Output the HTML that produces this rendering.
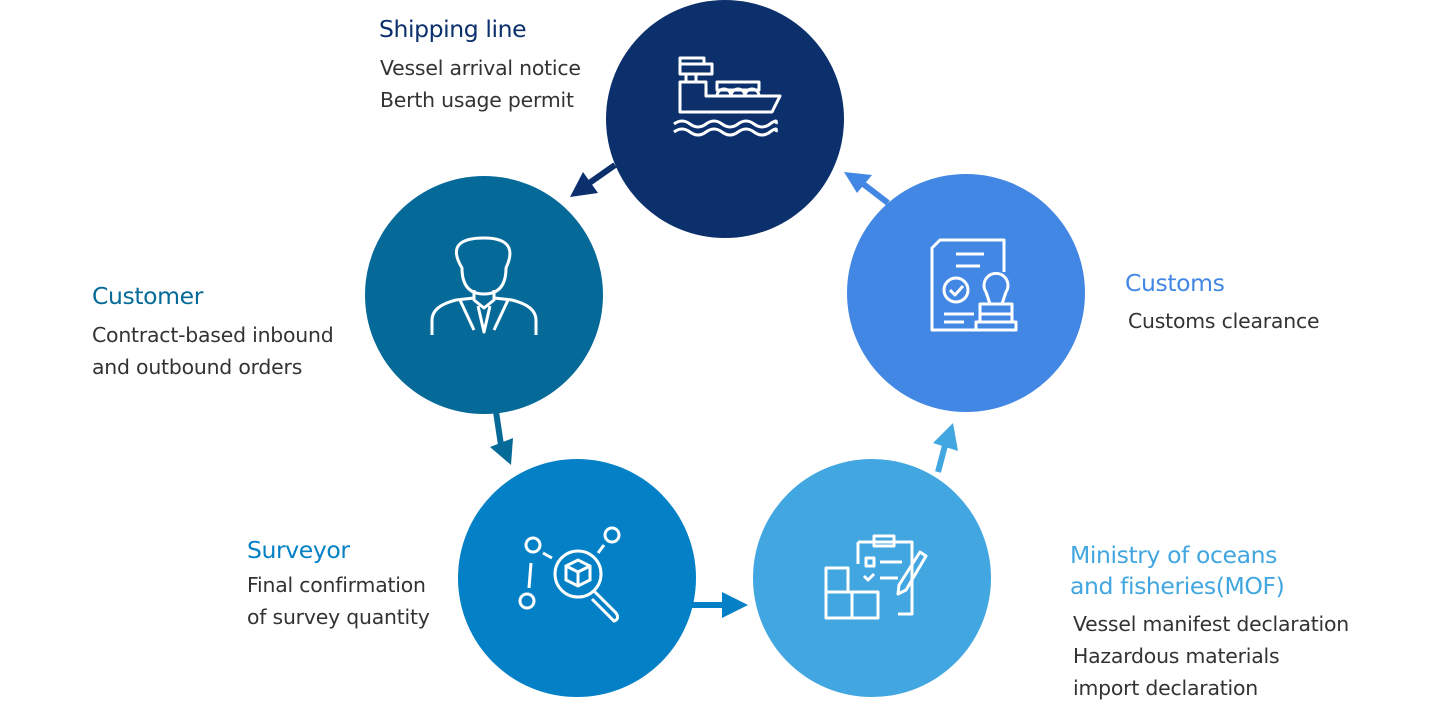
<!DOCTYPE html>
<html><head><meta charset="utf-8"><style>
body{margin:0;width:1440px;height:702px;background:#fff;overflow:hidden;position:relative;font-family:"DejaVu Sans","Liberation Sans",sans-serif}
.t{position:absolute;font-size:23.5px;font-weight:500;letter-spacing:-0.4px}
.d{position:absolute;font-size:20.4px;color:#333;line-height:32px;letter-spacing:-0.2px}
</style></head><body>
<svg width="1440" height="702" style="position:absolute;left:0;top:0">
<circle cx="725" cy="119" r="119" fill="#0b306c"/>
<circle cx="484" cy="295" r="119" fill="#066a99"/>
<circle cx="577" cy="578" r="119" fill="#0480c6"/>
<circle cx="872" cy="578" r="119" fill="#42a6e0"/>
<circle cx="966" cy="293" r="119" fill="#4387e4"/>
<g stroke-width="6" fill="none">
<line x1="615" y1="165" x2="585" y2="186" stroke="#0b306c"/>
<line x1="495" y1="405" x2="501" y2="445" stroke="#066a99"/>
<line x1="690" y1="605" x2="725" y2="605" stroke="#0480c6"/>
<line x1="938" y1="472" x2="947" y2="438" stroke="#42a6e0"/>
<line x1="888" y1="203" x2="862" y2="183" stroke="#4387e4"/>
</g>
<polygon points="570,197 583,172 598,193" fill="#0b306c"/>
<polygon points="490,447 513,438 511,465" fill="#066a99"/>
<polygon points="722,592 748,605 722,618" fill="#0480c6"/>
<polygon points="953,423 933,443 958,451" fill="#42a6e0"/>
<polygon points="844,172 872,175 857,193" fill="#4387e4"/>
<g stroke="#fff" stroke-width="3" fill="none" stroke-linejoin="round">
<path d="M680 58h24v6h-24zM680 64h32v10h-32zM686 74v8h10v-8M680 82v30h92l8-16H706v-14z"/>
<path d="M717 96a7 7 0 0 1 14 0a7 7 0 0 1 14 0a7 7 0 0 1 14 0"/><rect x="717" y="82" width="42" height="8"/>
<path d="M674 124q8-6 16 0t16 0t16 0t16 0t16 0t16 0t6 0M674 132q8-6 16 0t16 0t16 0t16 0t16 0t16 0t6 0"/>
</g>
<g stroke="#fff" stroke-width="3" fill="none" stroke-linejoin="round">
<path d="M462 268q-18-30 22-30q36 0 22 30q0 26-22 26q-22 0-22-26z"/>
<path d="M474 290v10l10 8l10-8v-10"/>
<path d="M432 335v-15q0-14 24-20l18 -2M536 335v-15q0-14-24-20l-18-2"/>
<path d="M478 306l6 26l6-26M460 300l14 30M508 300l-14 30"/>
</g>
<g stroke="#fff" stroke-width="3" fill="none">
<circle cx="533" cy="545" r="7"/><circle cx="527" cy="601" r="7"/><circle cx="612" cy="535" r="7"/>
<line x1="531" y1="563" x2="529" y2="588"/><line x1="543" y1="553" x2="552" y2="558"/><line x1="604" y1="545" x2="598" y2="553"/>
<circle cx="578" cy="574" r="23"/><path d="M594 591l22 22q4 6-2 8l-22-22"/>
<path d="M566 566l12-6l12 6v14l-12 6l-12-6zM566 566l12 6l12-6M578 572v14"/>
</g>
<g stroke="#fff" stroke-width="3" fill="none" stroke-linejoin="round">
<path d="M858 542h54v72h-14M858 542v22"/><rect x="874" y="536" width="20" height="10"/>
<path d="M866 558h8v8h-8zM880 562h22M864 576l4 4l6-6M880 578h18"/>
<path d="M826 568h22v24h-22zM826 592h26v26h-26zM852 592h26v26h-26z"/>
<path d="M920 552l6 4l-20 34l-8 4l1-9z"/>
</g>
<g stroke="#fff" stroke-width="3" fill="none" stroke-linejoin="round">
<path d="M952 240h-12l-8 8v82h48M952 240h52v32"/>
<path d="M956 254h28M956 266h24M944 314h30M944 322h20"/>
<circle cx="956" cy="290" r="12"/><path d="M950 290l5 5l8-9"/>
<path d="M986 292a12 12 0 1 1 20 0l-4 12h-12zM980 304h32v10h-32zM976 322h40v8h-40zM980 314v8M1012 314v8"/>
</g>
</svg>
<div class="t" style="left:379px;top:15px;color:#0b306c">Shipping line</div>
<div class="d" style="left:380px;top:52px">Vessel arrival notice<br>Berth usage permit</div>
<div class="t" style="left:92px;top:282px;color:#066a99">Customer</div>
<div class="d" style="left:92px;top:319px">Contract-based inbound<br>and outbound orders</div>
<div class="t" style="left:247px;top:536px;color:#0480c6">Surveyor</div>
<div class="d" style="left:247px;top:569px">Final confirmation<br>of survey quantity</div>
<div class="t" style="left:1070px;top:540px;color:#42a6e0;line-height:31px">Ministry of oceans<br>and fisheries(MOF)</div>
<div class="d" style="left:1073px;top:608px">Vessel manifest declaration<br>Hazardous materials<br>import declaration</div>
<div class="t" style="left:1125px;top:269px;color:#4387e4">Customs</div>
<div class="d" style="left:1128px;top:305px">Customs clearance</div>
</body></html>
